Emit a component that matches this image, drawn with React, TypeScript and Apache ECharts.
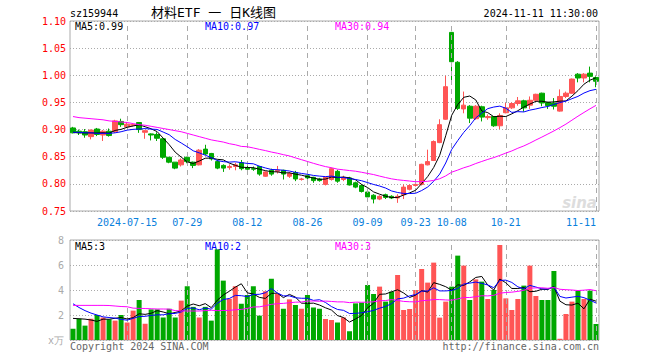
import React, { useEffect, useRef } from 'react';
import * as echarts from 'echarts';

// ---------- data ----------
const dates = [
  '2024-07-02','2024-07-03','2024-07-04','2024-07-05','2024-07-08','2024-07-09','2024-07-10','2024-07-11','2024-07-12','2024-07-15',
  '2024-07-16','2024-07-17','2024-07-18','2024-07-19','2024-07-22','2024-07-23','2024-07-24','2024-07-25','2024-07-26','2024-07-29',
  '2024-07-30','2024-07-31','2024-08-01','2024-08-02','2024-08-05','2024-08-06','2024-08-07','2024-08-08','2024-08-09','2024-08-12',
  '2024-08-13','2024-08-14','2024-08-15','2024-08-16','2024-08-19','2024-08-20','2024-08-21','2024-08-22','2024-08-23','2024-08-26',
  '2024-08-27','2024-08-28','2024-08-29','2024-08-30','2024-09-02','2024-09-03','2024-09-04','2024-09-05','2024-09-06','2024-09-09',
  '2024-09-10','2024-09-11','2024-09-12','2024-09-13','2024-09-18','2024-09-19','2024-09-20','2024-09-23','2024-09-24','2024-09-25',
  '2024-09-26','2024-09-27','2024-09-30','2024-10-08','2024-10-09','2024-10-10','2024-10-11','2024-10-14','2024-10-15','2024-10-16',
  '2024-10-17','2024-10-18','2024-10-21','2024-10-22','2024-10-23','2024-10-24','2024-10-25','2024-10-28','2024-10-29','2024-10-30',
  '2024-10-31','2024-11-01','2024-11-04','2024-11-05','2024-11-06','2024-11-07','2024-11-08','2024-11-11',
];

const openP = [
  0.903,0.897,0.896,0.887,0.901,0.890,0.897,0.896,0.915,0.905,
  0.908,0.913,0.895,0.892,0.891,0.883,0.849,0.840,0.835,0.849,
  0.840,0.835,0.864,0.856,0.841,0.834,0.830,0.832,0.839,0.830,
  0.828,0.832,0.814,0.825,0.823,0.825,0.814,0.821,0.808,0.815,
  0.812,0.809,0.799,0.808,0.823,0.808,0.811,0.802,0.797,0.785,
  0.779,0.772,0.780,0.777,0.774,0.780,0.790,0.797,0.799,0.835,
  0.843,0.876,0.919,1.079,1.024,0.938,0.943,0.920,0.942,0.922,
  0.924,0.907,0.931,0.940,0.948,0.953,0.945,0.954,0.967,0.950,
  0.949,0.934,0.961,0.967,1.002,0.995,1.004,0.996,
];
const closeP = [
  0.894,0.894,0.890,0.899,0.891,0.897,0.889,0.916,0.909,0.910,
  0.909,0.900,0.898,0.890,0.884,0.849,0.840,0.829,0.844,0.841,
  0.834,0.862,0.855,0.846,0.829,0.829,0.832,0.835,0.828,0.827,
  0.827,0.818,0.822,0.818,0.825,0.818,0.819,0.809,0.809,0.811,
  0.806,0.806,0.812,0.828,0.805,0.812,0.798,0.794,0.786,0.776,
  0.772,0.777,0.775,0.774,0.777,0.794,0.797,0.799,0.836,0.841,
  0.878,0.909,0.979,1.025,0.939,0.945,0.921,0.943,0.923,0.924,
  0.907,0.926,0.940,0.948,0.953,0.940,0.954,0.965,0.949,0.944,
  0.943,0.961,0.967,0.993,0.995,1.002,0.998,0.989,
];
const highP = [
  0.905,0.900,0.901,0.900,0.903,0.899,0.902,0.918,0.920,0.914,
  0.911,0.914,0.899,0.893,0.895,0.884,0.849,0.840,0.847,0.850,
  0.841,0.864,0.872,0.857,0.844,0.836,0.836,0.839,0.844,0.833,
  0.832,0.833,0.823,0.828,0.833,0.826,0.822,0.824,0.811,0.818,
  0.813,0.811,0.813,0.830,0.826,0.815,0.813,0.804,0.799,0.790,
  0.781,0.779,0.782,0.779,0.781,0.799,0.799,0.801,0.837,0.863,
  0.880,0.919,0.999,1.080,1.026,0.970,0.945,0.945,0.944,0.928,
  0.925,0.930,0.949,0.950,0.960,0.955,0.961,0.966,0.968,0.951,
  0.958,0.974,0.970,0.994,1.004,1.004,1.016,0.998,
];
const lowP = [
  0.893,0.890,0.885,0.882,0.888,0.879,0.887,0.894,0.905,0.903,
  0.906,0.894,0.883,0.880,0.879,0.846,0.838,0.827,0.832,0.838,
  0.829,0.834,0.853,0.843,0.827,0.822,0.826,0.825,0.825,0.824,
  0.824,0.815,0.813,0.815,0.819,0.808,0.811,0.805,0.806,0.808,
  0.802,0.804,0.797,0.806,0.802,0.805,0.797,0.792,0.784,0.772,
  0.764,0.770,0.772,0.772,0.765,0.772,0.788,0.795,0.797,0.834,
  0.842,0.875,0.918,0.989,0.936,0.930,0.912,0.918,0.915,0.918,
  0.905,0.901,0.930,0.938,0.944,0.933,0.938,0.952,0.943,0.938,
  0.937,0.933,0.958,0.966,0.987,0.987,0.987,0.978,
];
// volume in 万
const volume = [
  0.9,1.7,1.15,1.7,2.0,1.8,1.65,1.55,2.0,1.4,
  2.35,3.2,1.3,2.45,2.45,1.8,2.5,1.8,3.15,4.3,
  2.65,1.8,2.65,1.55,7.25,4.75,3.3,4.3,2.9,3.6,
  4.3,1.95,3.9,4.9,3.7,2.5,3.25,2.8,2.5,3.6,
  2.6,2.5,1.68,1.6,1.4,1.8,0.7,2.93,2.99,4.4,
  3.68,4.27,3.07,3.87,5.2,2.4,2.48,4.0,5.68,4.59,
  6.19,1.79,3.07,4.27,6.75,5.95,3.2,4.85,4.67,3.28,
  4.0,7.6,3.33,2.4,3.28,4.35,5.95,3.52,3.2,3.2,
  5.52,0.1,2.08,3.07,3.95,3.28,3.95,1.28,
];

// moving-average values before the window is full
const ma5Head = [0.895, 0.894, 0.894, 0.894];
const ma10Head = [0.895, 0.895, 0.894, 0.894, 0.893, 0.893, 0.893, 0.894, 0.896];
const ma30Head = [
  0.924,0.922,0.921,0.920,0.919,0.918,0.916,0.915,0.914,0.913,
  0.911,0.909,0.908,0.906,0.904,0.902,0.900,0.898,0.896,0.893,
  0.890,0.887,0.884,0.881,0.879,0.877,0.874,0.872,0.869,
];
const volMa5Head = [1.73, 1.70, 1.67, 1.60];
const volMa10Head = [2.9, 2.6, 2.35, 2.15, 2.0, 1.85, 1.8, 1.75, 1.65];
const volMa30Head = [
  2.77,2.77,2.77,2.77,2.77,2.77,2.76,2.72,2.68,2.66,
  2.55,2.53,2.52,2.50,2.48,2.48,2.47,2.35,2.33,2.32,
  2.32,2.32,2.35,2.38,2.35,2.36,2.37,2.42,2.45,
];

const tickIdx = [9, 19, 29, 39, 49, 57, 63, 72, 87];
const priceMaLabels = ['0.99', '0.97', '0.94'];
const volMaLabels = ['3', '2', '3'];
const headerCode = 'sz159944';
const headerTitle = '材料ETF 一 日K线图';
const headerTime = '2024-11-11 11:30:00';

// ---------- helpers ----------
function movingAvg(vals: number[], n: number, head: number[]): number[] {
  return vals.map((_, i) => {
    if (i < n - 1) return head[i];
    let s = 0;
    for (let k = i - n + 1; k <= i; k++) s += vals[k];
    return s / n;
  });
}

const MONO = '"DejaVu Sans Mono", "Liberation Mono", monospace';
const UP = '#ff5555';
const DOWN = '#00a800';
const C5 = '#000000';
const C10 = '#0000ff';
const C30 = '#ff00ff';

function buildOption(): any {
  const kData = dates.map((_, i) => [openP[i], closeP[i], lowP[i], highP[i]]);
  const volData = volume.map((v, i) => ({
    value: v,
    itemStyle: { color: closeP[i] >= openP[i] ? UP : DOWN },
  }));
  const vLines = tickIdx.map((i) => ({ xAxis: dates[i] }));
  const markLine = {
    silent: true,
    symbol: ['none', 'none'],
    label: { show: false },
    lineStyle: { color: '#aaaaaa', type: [5, 4], width: 1 },
    animation: false,
    data: vLines,
  };
  const lineSeries = (name: string, data: number[], color: string, xi: number) => ({
    name,
    type: 'line',
    xAxisIndex: xi,
    yAxisIndex: xi,
    data,
    showSymbol: false,
    symbol: 'none',
    silent: true,
    lineStyle: { color, width: 1 },
    z: 5,
  });

  const txt = (text: string, x: number, y: number, fill: string, font: string, align = 'left') => ({
    type: 'text',
    x,
    y,
    silent: true,
    style: { text, fill, font, align, verticalAlign: 'middle' },
  });

  return {
    animation: false,
    backgroundColor: '#ffffff',
    grid: [
      { left: 70, top: 21, width: 529, height: 190, show: true, borderColor: '#aaaaaa', borderWidth: 1, containLabel: false },
      { left: 70, top: 240, width: 529, height: 100, show: true, borderColor: '#aaaaaa', borderWidth: 1, containLabel: false },
    ],
    xAxis: [
      {
        type: 'category',
        gridIndex: 0,
        data: dates,
        boundaryGap: true,
        axisLine: { show: false },
        axisTick: { show: false },
        splitLine: { show: false },
        axisLabel: {
          interval: (idx: number) => tickIdx.includes(idx),
          formatter: (val: string, idx: number) => (idx === tickIdx[0] ? val : val.slice(5)),
          color: '#0a80dc',
          fontFamily: MONO,
          fontSize: 10,
          margin: 6,
          alignMaxLabel: 'right',
        },
      },
      {
        type: 'category',
        gridIndex: 1,
        data: dates,
        boundaryGap: true,
        axisLine: { show: false },
        axisTick: { show: false },
        splitLine: { show: false },
        axisLabel: { show: false },
      },
    ],
    yAxis: [
      {
        type: 'value',
        gridIndex: 0,
        min: 0.75,
        max: 1.1,
        interval: 0.05,
        axisLine: { show: false },
        axisTick: { show: false },
        axisLabel: {
          color: '#ff0000',
          fontFamily: MONO,
          fontSize: 10,
          margin: 4,
          formatter: (v: number) => v.toFixed(2),
        },
        splitLine: { show: true, lineStyle: { color: '#aaaaaa', type: [1, 2], width: 1 } },
      },
      {
        type: 'value',
        gridIndex: 1,
        min: 0,
        max: 8,
        interval: 2,
        axisLine: { show: false },
        axisTick: { show: false },
        axisLabel: {
          color: '#aaaaaa',
          fontFamily: MONO,
          fontSize: 10,
          margin: 6,
          formatter: (v: number) => (v === 0 ? 'x万' : String(v)),
        },
        splitLine: { show: true, lineStyle: { color: '#aaaaaa', type: [1, 2], width: 1 } },
      },
    ],
    series: [
      {
        type: 'candlestick',
        xAxisIndex: 0,
        yAxisIndex: 0,
        data: kData,
        barWidth: 5,
        silent: true,
        itemStyle: { color: UP, color0: DOWN, borderColor: UP, borderColor0: DOWN, borderWidth: 1 },
        markLine,
        z: 3,
      },
      lineSeries('MA5', movingAvg(closeP, 5, ma5Head), C5, 0),
      lineSeries('MA10', movingAvg(closeP, 10, ma10Head), C10, 0),
      lineSeries('MA30', movingAvg(closeP, 30, ma30Head), C30, 0),
      {
        type: 'bar',
        xAxisIndex: 1,
        yAxisIndex: 1,
        data: volData,
        barWidth: 5,
        silent: true,
        markLine,
        z: 3,
      },
      lineSeries('VMA5', movingAvg(volume, 5, volMa5Head), C5, 1),
      lineSeries('VMA10', movingAvg(volume, 10, volMa10Head), C10, 1),
      lineSeries('VMA30', movingAvg(volume, 30, volMa30Head), C30, 1),
    ],
    graphic: [
      txt(headerCode, 70, 13, '#000000', `10px ${MONO}`),
      txt(headerTitle, 151, 12, '#000000', `13px "DejaVu Sans Mono", "Noto Sans CJK SC", monospace`),
      txt(headerTime, 598, 13, '#000000', `10px ${MONO}`, 'right'),
      txt('MA5:' + priceMaLabels[0], 75, 26, C5, `10px ${MONO}`),
      txt('MA10:' + priceMaLabels[1], 205, 26, C10, `10px ${MONO}`),
      txt('MA30:' + priceMaLabels[2], 335, 26, C30, `10px ${MONO}`),
      txt('MA5:' + volMaLabels[0], 75, 246, C5, `10px ${MONO}`),
      txt('MA10:' + volMaLabels[1], 205, 246, C10, `10px ${MONO}`),
      txt('MA30:' + volMaLabels[2], 335, 246, C30, `10px ${MONO}`),
      txt('Copyright 2024 SINA.COM', 70, 346, '#666666', `10px ${MONO}`),
      txt('http://finance.sina.com.cn', 599, 346, '#666666', `10px ${MONO}`, 'right'),
      txt('sina', 597, 203, '#dddddd', `italic bold 15px "DejaVu Sans", sans-serif`, 'right'),
    ],
  };
}

export default function App() {
  const ref = useRef<HTMLDivElement>(null);
  useEffect(() => {
    if (!ref.current) return;
    const chart = echarts.init(ref.current, null, { renderer: 'svg' });
    chart.setOption(buildOption());
    return () => chart.dispose();
  }, []);
  return (
    <div
      ref={ref}
      style={{ position: 'fixed', left: 0, top: 0, width: 660, height: 360, background: '#fff' }}
    />
  );
}
